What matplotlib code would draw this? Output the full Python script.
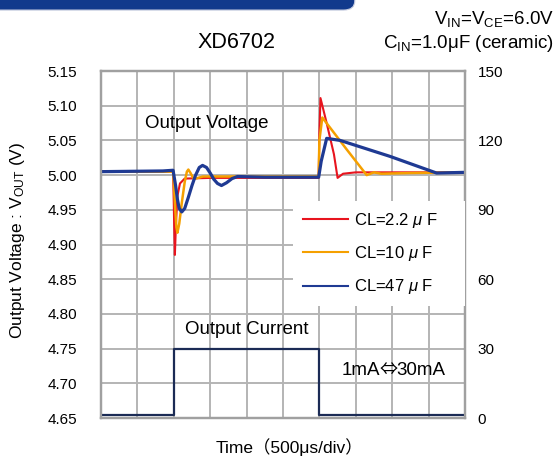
import matplotlib
matplotlib.use("Agg")
import matplotlib.pyplot as plt
from matplotlib.patches import FancyBboxPatch

plt.rcParams['font.family'] = ['Liberation Sans', 'Noto Sans CJK JP', 'DejaVu Sans']
plt.rcParams['mathtext.fontset'] = 'custom'
plt.rcParams['mathtext.rm'] = 'Liberation Sans'
plt.rcParams['mathtext.it'] = 'Liberation Sans:italic'

# time in divisions (500us/div)
t_red = [0, 1.98, 2.0, 2.01, 2.03, 2.06, 2.1, 2.17, 2.3, 3.0, 4.0, 5.98, 6.0, 6.03, 6.2, 6.4, 6.5, 6.65, 7.0, 8.0, 10]
v_red = [5.005, 5.005, 4.96, 4.93, 4.885, 4.93, 4.97, 4.988, 4.995, 4.996, 4.996, 4.996, 5.06, 5.111, 5.075, 5.03, 4.996, 5.002, 5.004, 5.004, 5.004]

t_org = [0, 1.98, 2.0, 2.03, 2.07, 2.1, 2.15, 2.22, 2.3, 2.36, 2.4, 2.46, 2.53, 2.6, 2.8, 4.0, 5.98, 6.0, 6.08, 6.75, 7.3, 7.5, 7.7, 8.5, 10]
v_org = [5.005, 5.005, 4.99, 4.96, 4.925, 4.917, 4.93, 4.96, 4.99, 5.005, 5.008, 5.003, 4.996, 4.995, 4.998, 4.998, 4.998, 5.05, 5.083, 5.037, 5.0, 5.004, 5.002, 5.003, 5.004]

t_blu = [0, 1.7, 1.98, 2.05, 2.1, 2.15, 2.22, 2.3, 2.4, 2.5, 2.6, 2.7, 2.79, 2.9, 3.0, 3.1, 3.2, 3.31, 3.45, 3.6, 3.75, 4.5, 5.98, 6.05, 6.2, 6.57, 7.94, 9.22, 10]
v_blu = [5.005, 5.006, 5.007, 4.985, 4.965, 4.952, 4.947, 4.952, 4.968, 4.985, 5.0, 5.011, 5.014, 5.011, 5.003, 4.994, 4.988, 4.985, 4.989, 4.995, 4.998, 4.997, 4.997, 5.02, 5.053, 5.05, 5.027, 5.003, 5.004]

t_cur = [0, 2.0, 2.0, 6.0, 6.0, 10]
i_cur = [1.5, 1.5, 30, 30, 1.5, 1.5]

labels = ['CL=2.2 $\\mu$ F', 'CL=10 $\\mu$ F', 'CL=47 $\\mu$ F']
yticks_v = [4.65, 4.70, 4.75, 4.80, 4.85, 4.90, 4.95, 5.00, 5.05, 5.10, 5.15]
yticks_i = [0, 30, 60, 90, 120, 150]

fig = plt.figure(figsize=(5.57, 4.57), dpi=100)
ax = fig.add_axes([0.1813, 0.0853, 0.6535, 0.7593])
ax2 = ax.twinx()

# header bar
bar = FancyBboxPatch((-0.05, 0.978), 0.687, 0.07, boxstyle="round,pad=0,rounding_size=0.02",
                     transform=fig.transFigure, facecolor='#123a8c', edgecolor='#c8cde0', lw=0.8)
fig.patches.append(bar)

l1, = ax.plot(t_red, v_red, color='#e8141e', lw=1.5, zorder=3)
l2, = ax.plot(t_org, v_org, color='#f5a000', lw=1.8, zorder=4)
l3, = ax.plot(t_blu, v_blu, color='#1f3a93', lw=2.3, zorder=5)

ax2.plot(t_cur, i_cur, color='#1b2b55', lw=1.6)

ax.set_xlim(0, 10)
ax.set_ylim(4.65, 5.15)
ax2.set_ylim(0, 150)
ax.set_xticks(range(11))
ax.set_xticklabels([])
ax.set_yticks(yticks_v)
ax.set_yticklabels(['%.2f' % v for v in yticks_v])
ax2.set_yticks(yticks_i)
ax.grid(True, color='#b4b4b4', lw=1.4)
ax.set_axisbelow(True)
ax.tick_params(length=0, labelsize=11, pad=17)
ax2.tick_params(length=0, labelsize=11, pad=9)
for a in (ax, ax2):
    for s in a.spines.values():
        s.set_color('#a0a0a0')
        s.set_linewidth(1.6)

fig.text(18 / 557, 1 - 240 / 457, 'Output Voltage : V$_{\\mathrm{OUT}}$ (V)', fontsize=12.5,
         rotation=90, ha='center', va='center')
fig.text(289 / 557, 1 - 447 / 457, 'Time\uff08500\u03bcs/div\uff09', fontsize=12.5,
         ha='center', va='center')

ax.text(1.21, 5.075, 'Output Voltage', fontsize=13.5, va='center', ha='left')
ax.text(4.01, 4.777, 'Output Current', fontsize=13.5, va='center', ha='center')
ax.text(7.66, 4.719, '1mA', fontsize=13.5, va='center', ha='right')
ax.text(7.89, 4.719, '\u21d4', fontsize=13, va='center', ha='center', family=['Noto Sans CJK JP'])
ax.text(8.12, 4.719, '30mA', fontsize=13.5, va='center', ha='left')

leg = ax2.legend([l1, l2, l3], labels, loc='upper left', bbox_to_anchor=(0.527, 0.625, 0.473, 0),
                 mode='expand', borderaxespad=0,
                 fontsize=12, frameon=True, fancybox=False, edgecolor='none', framealpha=1,
                 handlelength=2.7, handletextpad=0.35, labelspacing=0.85, borderpad=0.6)
for h in leg.get_lines():
    h.set_linewidth(1.5)

fig.text(237 / 557, 1 - 42 / 457, 'XD6702', fontsize=15.5, ha='center', va='center')
fig.text(0.995, 1 - 19 / 457, 'V$_{\\mathrm{IN}}$=V$_{\\mathrm{CE}}$=6.0V', fontsize=13.5, ha='right', va='center')
fig.text(0.995, 1 - 43 / 457, 'C$_{\\mathrm{IN}}$=1.0\u03bcF (ceramic)', fontsize=13.5, ha='right', va='center')

fig.savefig('out.png', dpi=100)
